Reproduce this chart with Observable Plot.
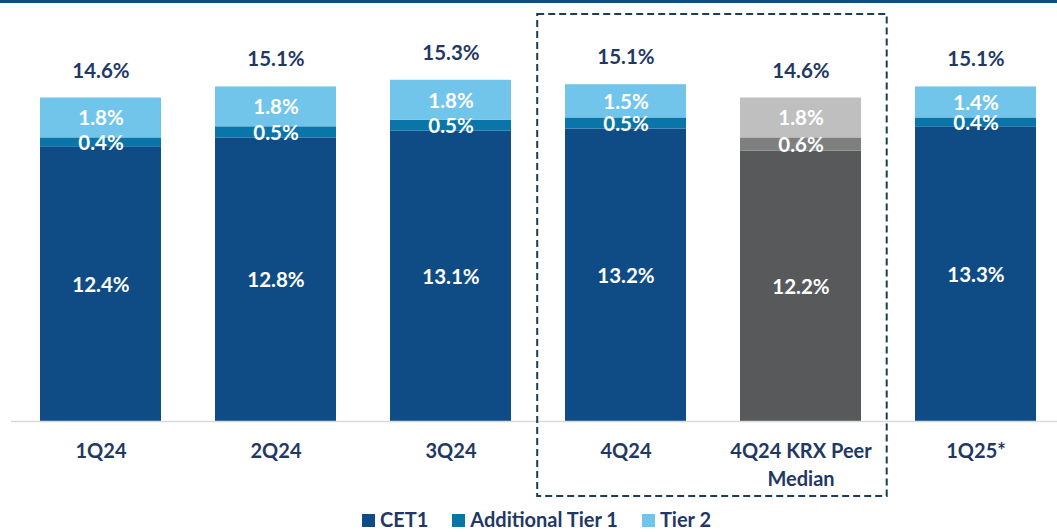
<!DOCTYPE html>
<html>
<head>
<meta charset="utf-8">
<script src="https://cdn.jsdelivr.net/npm/d3@7"></script>
<script src="https://cdn.jsdelivr.net/npm/@observablehq/plot@0.6"></script>
<style>
  html, body { margin: 0; padding: 0; background: #fff; }
  #wrap { position: relative; width: 1057px; height: 532px; overflow: hidden; font-family: Lato, "Open Sans", sans-serif; }
  #topbar { position: absolute; left: 0; top: 0; width: 1057px; height: 3px; background: #0f4c81; }
  #chart { position: absolute; left: 0; top: 0; }
  #legend { position: absolute; left: 0; top: 507px; width: 1057px; display: flex; justify-content: center; align-items: center;
            font: bold 20px Lato, sans-serif; color: #1f3864; gap: 24px; padding-left: 16px; box-sizing: border-box; }
  #legend .item { display: flex; align-items: center; }
  #legend .sw { display: inline-block; width: 13px; height: 13px; margin-right: 5px; margin-top: 2px; }
</style>
</head>
<body>
<div id="wrap">
  <div id="chart"></div>
  <div id="topbar"></div>
  <div id="legend"></div>
</div>
<script>
// ---- data ----
const categories = ["1Q24", "2Q24", "3Q24", "4Q24", "4Q24 KRX Peer Median", "1Q25*"];
const tickLabels = ["1Q24", "2Q24", "3Q24", "4Q24", "4Q24 KRX Peer\nMedian", "1Q25*"];
const cet1  = [12.4, 12.8, 13.1, 13.2, 12.2, 13.3];
const at1   = [0.4, 0.5, 0.5, 0.5, 0.6, 0.4];
const tier2 = [1.8, 1.8, 1.8, 1.5, 1.8, 1.4];
const totals = [14.6, 15.1, 15.3, 15.1, 14.6, 15.1];
const seriesNames = ["CET1", "Additional Tier 1", "Tier 2"];
const peerCategory = "4Q24 KRX Peer Median";
const boxedCategories = ["4Q24", "4Q24 KRX Peer Median"];

// ---- styles ----
const mainColors = {"CET1": "#0f4c85", "Additional Tier 1": "#0a75a8", "Tier 2": "#72c5ea"};
const peerColors = {"CET1": "#58595b", "Additional Tier 1": "#7f7f7f", "Tier 2": "#bfbfbf"};
const navy = "#1f3864";
const FONT = "Lato, 'Open Sans', sans-serif";

const seriesValues = [cet1, at1, tier2];
const rows = categories.flatMap((c, i) => {
  let base = 0;
  return seriesNames.map((s, k) => {
    const v = seriesValues[k][i];
    const r = {cat: c, series: s, value: v, y1: base, y2: base + v, mid: base + v / 2};
    base += v;
    return r;
  });
});
const tops = categories.map((c, i) => ({cat: c, total: totals[i], top: cet1[i] + at1[i] + tier2[i]}));
const colorOf = d => (d.cat === peerCategory ? peerColors : mainColors)[d.series];

const W = 1057, H = 505;
const plot = Plot.plot({
  width: W,
  height: H,
  marginTop: 0,
  marginBottom: 84,
  marginLeft: 11,
  marginRight: 0,
  style: {fontFamily: FONT, background: "transparent", overflow: "visible"},
  x: {domain: categories, range: [10.7, 1064.3], paddingInner: 0.31, paddingOuter: 0.155, axis: null},
  y: {domain: [0, 19], axis: null},
  marks: [
    Plot.barY(rows, {x: "cat", y1: "y1", y2: "y2", fill: colorOf}),
    Plot.ruleY([0], {stroke: "#d9d9d9", strokeWidth: 1.5}),
    Plot.text(rows, {x: "cat", y: "mid", text: d => d.value.toFixed(1) + "%", fill: "white",
      fontSize: 20.5, fontWeight: "bold", lineAnchor: "middle", dy: 1}),
    Plot.text(tops, {x: "cat", y: "top", text: d => d.total.toFixed(1) + "%", fill: navy,
      fontSize: 20.5, fontWeight: "bold", lineAnchor: "middle", dy: -27}),
    Plot.text(categories, {x: d => d, y: () => 0, text: (d, i) => tickLabels[i], fill: navy,
      fontSize: 20, fontWeight: "bold", lineAnchor: "top", lineHeight: 1.4, dy: 17})
  ]
});
document.getElementById("chart").appendChild(plot);

// dashed highlight box around the 4Q24 comparison, positioned via Plot's x scale
const xs = plot.scale("x");
const step = xs.step;
const i0 = categories.indexOf(boxedCategories[0]);
const i1 = categories.indexOf(boxedCategories[1]);
const r0 = xs.range[0];
const bx0 = r0 + i0 * step + 1.5;
const bx1 = r0 + (i1 + 1) * step + 1;
d3.select(plot).append("rect")
  .attr("x", bx0).attr("y", 14)
  .attr("width", bx1 - bx0).attr("height", 496 - 14)
  .attr("fill", "none").attr("stroke", "#1b3d5a").attr("stroke-width", 2)
  .attr("stroke-dasharray", "7,4");

// legend
const legend = document.getElementById("legend");
seriesNames.forEach(s => {
  const item = document.createElement("span");
  item.className = "item";
  const sw = document.createElement("span");
  sw.className = "sw";
  sw.style.background = mainColors[s];
  item.appendChild(sw);
  item.appendChild(document.createTextNode(s));
  legend.appendChild(item);
});
</script>
</body>
</html>
